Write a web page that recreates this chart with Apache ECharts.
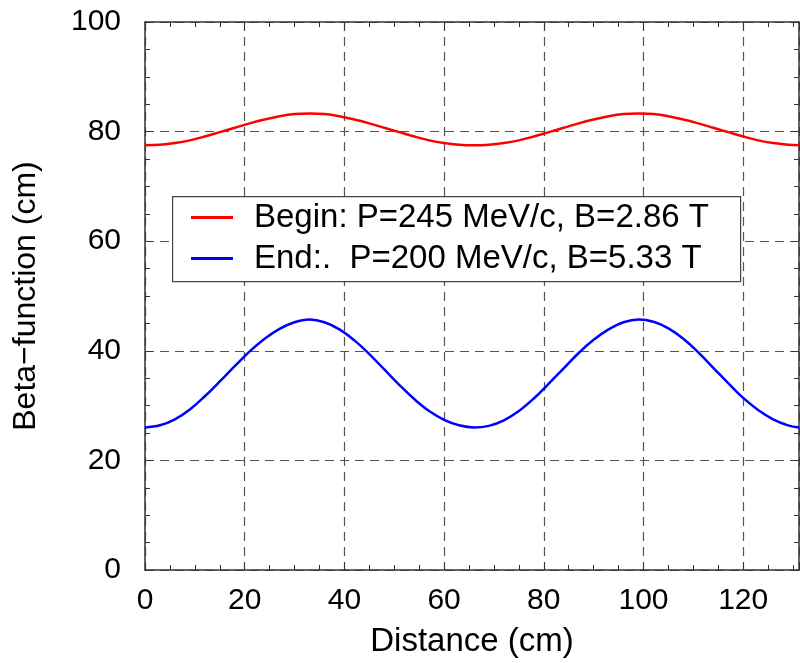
<!DOCTYPE html>
<html>
<head>
<meta charset="utf-8">
<script src="https://cdn.jsdelivr.net/npm/echarts@6/dist/echarts.min.js"></script>
<style>
    html, body { margin: 0; padding: 0; background: #fff; }
    #chart { width: 800px; height: 663px; }
</style>
</head>
<body>
<div id="chart"></div>
<script>
// 数据
const distance = [0, 3, 6, 9, 12, 15, 18, 21, 24, 27, 30, 33, 36, 39, 42, 45, 48, 51, 54, 57, 60, 63, 66,
    69, 72, 75, 78, 81, 84, 87, 90, 93, 96, 99, 102, 105, 108, 111, 114, 117, 120, 123, 126, 129, 131.2];
const betaBegin = [77.5, 77.6, 77.9, 78.4, 79.1, 79.9, 80.7, 81.5, 82.2, 82.8, 83.2, 83.3, 83.2, 82.8, 82.2,
    81.5, 80.7, 79.9, 79.1, 78.4, 77.9, 77.6, 77.5, 77.6, 77.9, 78.4, 79.1, 79.9, 80.7, 81.5, 82.2, 82.8,
    83.2, 83.3, 83.2, 82.8, 82.2, 81.5, 80.7, 79.9, 79.1, 78.4, 77.9, 77.6, 77.5];
const betaEnd = [26.0, 26.4, 27.5, 29.3, 31.7, 34.4, 37.2, 39.9, 42.2, 44.0, 45.2, 45.7, 45.2, 43.9, 41.9,
    39.4, 36.6, 33.8, 31.2, 29.0, 27.4, 26.4, 26.0, 26.3, 27.3, 29.0, 31.3, 34.0, 36.8, 39.6, 42.0, 43.9,
    45.2, 45.7, 45.3, 44.1, 42.2, 39.7, 36.9, 34.1, 31.4, 29.2, 27.5, 26.4, 26.0];
const seriesNames = ['Begin: P=245 MeV/c, B=2.86 T', 'End:.  P=200 MeV/c, B=5.33 T'];

const font = 'Liberation Sans, Arial, Helvetica, sans-serif';
const axisColor = '#333';
const gridLine = { show: true, lineStyle: { color: '#555', type: [9, 6], width: 1.2 } };

const chart = echarts.init(document.getElementById('chart'));

const baseX = {
    type: 'value', min: 0, max: 131.2, interval: 20,
    axisLine: { show: true, onZero: false, lineStyle: { color: axisColor, width: 1.5 } },
    axisTick: { show: true, inside: true, length: 8, lineStyle: { color: axisColor } },
    minorTick: { show: true, splitNumber: 4, length: 5, lineStyle: { color: axisColor } }
};
const baseY = {
    type: 'value', min: 0, max: 100, interval: 20,
    axisLine: { show: true, onZero: false, lineStyle: { color: axisColor, width: 1.5 } },
    axisTick: { show: true, inside: true, length: 8, lineStyle: { color: axisColor } },
    minorTick: { show: true, splitNumber: 4, length: 5, lineStyle: { color: axisColor } }
};

const option = {
    animation: false,
    backgroundColor: '#fff',
    textStyle: { fontFamily: font },
    grid: { left: 145, top: 22, right: 1, bottom: 92 },
    xAxis: [
        Object.assign({}, baseX, {
            position: 'bottom',
            name: 'Distance (cm)', nameLocation: 'middle', nameGap: 55,
            nameTextStyle: { fontSize: 33, color: '#000', fontFamily: font },
            axisLabel: { fontSize: 30, color: '#000', margin: 16, fontFamily: font,
                showMaxLabel: false },
            splitLine: gridLine
        }),
        Object.assign({}, baseX, {
            position: 'top',
            axisLabel: { show: false },
            splitLine: { show: false }
        })
    ],
    yAxis: [
        Object.assign({}, baseY, {
            position: 'left',
            name: 'Beta\u2212function (cm)', nameLocation: 'middle', nameGap: 103,
            nameTextStyle: { fontSize: 32, color: '#000', fontFamily: font },
            axisLabel: { fontSize: 30, color: '#000', margin: 24, fontFamily: font },
            splitLine: gridLine
        }),
        Object.assign({}, baseY, {
            position: 'right',
            axisLabel: { show: false },
            splitLine: { show: false }
        })
    ],
    graphic: [{
        type: 'rect',
        left: 172, top: 196,
        shape: { width: 568, height: 85 },
        style: { fill: '#fff', stroke: '#444', lineWidth: 1.2 },
        z: 50
    }],
    legend: {
        orient: 'vertical',
        left: 191, top: 199,
        padding: 0,
        itemGap: 4,
        itemWidth: 42,
        itemHeight: 3,
        icon: 'rect',
        z: 60,
        textStyle: { fontSize: 33, color: '#000', lineHeight: 37, fontFamily: font,
            padding: [0, 0, 0, 16] },
        data: seriesNames
    },
    series: [
        {
            name: seriesNames[0], type: 'line', smooth: 0.4, showSymbol: false,
            lineStyle: { color: '#ff0000', width: 2.5 },
            itemStyle: { color: '#ff0000' },
            data: distance.map((d, i) => [d, betaBegin[i]])
        },
        {
            name: seriesNames[1], type: 'line', smooth: 0.4, showSymbol: false,
            lineStyle: { color: '#0000ff', width: 2.5 },
            itemStyle: { color: '#0000ff' },
            data: distance.map((d, i) => [d, betaEnd[i]])
        }
    ]
};

chart.setOption(option);
</script>
</body>
</html>
